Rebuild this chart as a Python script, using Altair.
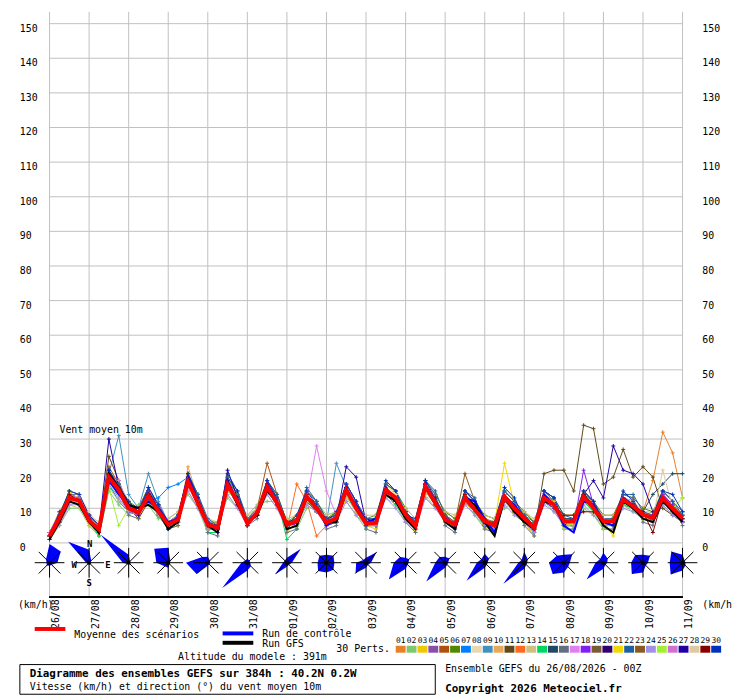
import json, math
import altair as alt
import pandas as pd

FONT = "DejaVu Sans Mono"
DAYS = ["26/08","27/08","28/08","29/08","30/08","31/08","01/09","02/09","03/09",
        "04/09","05/09","06/09","07/09","08/09","09/09","10/09","11/09"]
STEP_H = 6
Y_TICKS = list(range(0, 151, 10))

MEAN = [2.0,7.2,13,12.2, 6.5,3.9,19,15.3, 10,8.8,13.5,9.2, 5.3,6.7,17.7,11.5, 5.3,4.4,16.8,12,
        5.6,8.7,16.3,11.5, 5.3,6.3,13.4,10, 5.8,7.2,15.3,10, 5.6,5.8,15.3,13, 8.2,4.9,16.3,11.5,
        6.7,5.3,13,9.6, 6.3,5,13.4,10, 7.2,4.4,13,11, 6.3,6.3,13.4,10, 6.3,6.3,12.5,10.6, 8.2,7.2,13,10, 7.2]
CONTROL = [2,8,13,12, 7,3,18,14, 11,10,12,10, 6,7,19,12, 5,4,18,12, 6,9,17,12, 5,6,13,10, 5,7,15,11, 6,7,16,12, 8,5,17,12, 7,5,13,12, 7,3,13,11, 7,4,14,11, 5,3,12,11, 6,5,13,11, 8,7,12,10, 6]
GFS = [1,6,12,11, 6,3,20,16, 11,10,11,9, 4,6,18,11, 5,3,17,11, 6,8,15,12, 4,5,13,10, 6,6,15,10, 6,6,14,12, 7,4,16,12, 6,4,13,11, 6,2,13,9, 6,4,12,11, 6,6,14,10, 5,3,12,10, 7,6,12,9, 6]

P01 = [3,9,14,13, 8,3,21,16, 12,8,15,10, 4,6,19,11, 6,3,18,13, 5,8,17,11, 4,7,14,9, 5,6,16,12, 7,5,14,12, 9,4,17,13, 6,4,12,11, 7,4,14,9, 6,3,12,10, 5,7,15,11, 7,5,13,12, 9,18,32,26, 13]
P02 = [1,5,10,10, 5,2,15,11, 8,11,11,7, 7,9,14,10, 3,6,13,10, 8,11,12,12, 7,4,10,12, 8,9,12,8, 4,8,14,11, 6,7,13,10, 9,7,12,8, 4,7,10,12, 9,6,12,9, 8,4,10,8, 4,8,11,9, 8,9,11,8, 9]
P03 = [2,8,15,12, 5,2,18,14, 11,7,12,10, 4,5,20,12, 5,3,16,14, 5,8,18,12, 3,6,14,10, 6,6,13,11, 5,4,17,14, 9,3,15,12, 6,5,11,10, 4,4,13,8, 6,2,14,12, 5,6,14,8, 6,5,11,10, 7,6,14,11, 6]
P04 = [3,7,12,13, 8,4,20,16, 9,8,15,8, 5,7,17,13, 6,4,18,11, 6,9,16,11, 5,5,13,9, 6,7,16,10, 6,5,14,13, 7,5,17,11, 7,6,13,10, 6,5,12,10, 7,3,12,12, 6,7,14,10, 5,6,13,12, 8,6,12,10, 6]
P05 = [2,8,14,12, 7,5,22,17, 10,10,16,11, 6,6,18,11, 4,4,19,14, 7,10,23,14, 6,7,12,10, 5,8,15,11, 7,6,16,12, 8,6,15,13, 8,4,14,11, 6,6,14,11, 7,5,12,10, 6,5,12,11, 7,7,12,10, 8,8,14,11, 8]
P06 = [2,8,15,14, 8,4,21,17, 12,10,16,11, 6,8,20,14, 6,6,19,14, 7,10,18,14, 6,8,15,12, 7,9,17,12, 7,8,17,15, 10,7,18,14, 9,7,15,12, 8,7,15,12, 9,6,15,13, 8,8,15,12, 8,8,14,13, 10,9,15,12, 9]
P07 = [2,7,13,11, 6,4,17,12, 9,10,12,13, 16,17,19,12, 4,4,16,12, 6,9,15,11, 5,6,12,9, 6,7,15,9, 5,6,14,13, 8,5,15,12, 6,5,13,9, 6,6,13,10, 7,4,13,11, 6,6,12,10, 5,6,12,11, 8,7,12,10, 7]
P08 = [3,5,11,14, 9,5,18,16, 11,7,13,10, 4,6,17,11, 5,3,15,12, 7,8,17,13, 4,5,14,11, 7,6,15,10, 7,6,13,14, 7,4,17,11, 7,4,12,9, 5,4,14,11, 6,5,12,10, 6,6,14,10, 7,7,13,12, 9,6,14,10, 7]
P09 = [1,6,12,11, 7,4,20,31, 14,10,20,12, 6,8,18,13, 5,5,17,12, 6,8,16,12, 5,6,13,10, 6,23,16,11, 5,7,14,12, 9,6,15,11, 8,4,12,11, 7,4,12,9, 6,5,14,12, 7,7,14,9, 7,5,13,10, 9,8,14,11, 6]
P10 = [3,8,14,11, 6,3,18,14, 11,8,13,10, 6,6,22,13, 4,5,16,13, 5,10,15,11, 6,5,14,11, 5,8,14,9, 7,7,16,12, 7,4,15,11, 8,6,12,9, 7,5,12,9, 8,5,14,10, 5,5,14,11, 5,7,11,10, 7,8,12,9, 6]
P11 = [2,6,12,13, 6,4,25,18, 10,7,12,8, 4,8,17,11, 6,4,16,11, 6,8,15,11, 6,7,14,11, 7,8,16,11, 5,5,14,12, 9,6,17,12, 8,4,12,9, 5,6,12,9, 6,3,20,21, 21,15,34,33, 17,19,27,19, 22,19,10,8, 6]
P12 = [2,7,14,12, 8,5,18,15, 10,8,15,9, 5,7,19,12, 6,4,18,12, 5,9,16,12, 4,17,12,2, 5,7,14,10, 6,6,16,13, 7,5,15,12, 7,6,14,10, 7,5,12,10, 8,4,13,12, 6,6,12,11, 7,6,13,10, 8,7,14,11, 7]
P13 = [3,9,11,10, 8,6,16,12, 11,10,12,8, 7,9,15,10, 7,6,14,10, 8,10,14,10, 7,8,11,9, 8,9,13,9, 8,8,13,11, 10,7,14,10, 9,8,12,9, 8,7,12,10, 9,7,12,10, 8,8,12,9, 8,8,11,10, 9,9,12,9, 8]
P14 = [1,7,13,11, 6,2,16,14, 11,10,12,8, 4,6,17,14, 3,3,15,13, 5,10,17,13, 1,4,13,11, 5,6,14,9, 5,5,14,11, 7,4,15,11, 6,4,12,9, 5,4,12,9, 6,3,12,10, 5,5,12,9, 5,5,11,10, 7,6,12,9, 6]
P15 = [2,9,12,11, 8,3,20,16, 11,8,14,10, 5,6,19,13, 4,5,18,11, 6,8,17,13, 4,7,14,9, 7,6,16,11, 5,7,16,12, 9,6,17,11, 6,4,14,11, 5,6,14,11, 6,5,12,10, 7,7,14,11, 5,7,13,10, 9,14,17,20, 20]
P16 = [2,6,14,14, 6,3,20,16, 8,7,15,11, 4,5,19,14, 3,2,18,14, 5,7,18,13, 3,4,15,12, 4,5,17,12, 4,3,17,15, 6,3,18,14, 5,3,15,12, 4,3,15,12, 5,2,15,13, 4,4,15,12, 4,4,14,13, 6,5,15,12, 5]
P17 = [2,6,11,12, 6,4,19,18, 11,8,16,10, 5,7,16,13, 6,5,16,11, 6,9,15,13, 5,7,12,28, 15,8,15,9, 6,6,14,13, 8,5,15,12, 7,5,12,10, 7,5,14,10, 6,4,14,11, 6,6,14,10, 5,6,13,11, 7,7,12,10, 7]
P18 = [3,8,13,11, 8,5,20,14, 9,8,15,10, 6,6,17,11, 5,3,16,13, 7,8,17,11, 6,5,12,11, 5,6,14,11, 7,6,14,12, 7,6,17,13, 6,6,12,11, 5,4,12,11, 8,5,12,10, 5,5,21,11, 7,5,13,10, 9,6,14,11, 6]
P19 = [2,7,14,13, 6,3,20,16, 9,8,13,10, 4,6,17,12, 4,5,16,11, 5,8,17,12, 4,5,12,9, 7,6,14,10, 5,5,14,12, 8,4,16,13, 6,6,12,10, 7,6,13,9, 8,5,15,12, 5,5,12,11, 7,5,12,10, 7,6,13,9, 8]
P20 = [2,7,12,11, 7,5,21,16, 10,9,15,10, 5,8,19,13, 6,4,18,12, 5,9,17,12, 6,6,12,10, 7,8,16,11, 7,6,14,13, 9,5,17,12, 8,5,14,10, 5,5,13,11, 6,4,13,11, 5,7,13,10, 6,5,13,11, 7,7,13,10, 6]
P21 = [2,8,13,11, 6,3,18,15, 10,10,13,9, 5,7,18,11, 4,4,16,12, 7,9,15,12, 5,6,13,10, 6,7,15,9, 5,6,14,13, 7,5,15,12, 7,5,14,10, 6,6,23,11, 6,4,13,12, 6,5,13,10, 6,2,12,11, 7,6,12,10, 6]
P22 = [2,8,14,13, 8,5,20,17, 11,10,15,11, 6,8,20,14, 7,5,19,15, 7,9,18,14, 6,7,16,12, 7,8,17,12, 7,7,17,15, 9,6,18,15, 8,6,15,13, 6,6,15,12, 8,6,15,13, 8,7,14,12, 7,7,14,14, 9,8,15,12, 8]
P23 = [3,6,14,12, 7,5,18,16, 11,9,13,8, 6,7,17,12, 5,5,16,12, 6,9,15,11, 5,7,13,10, 6,6,15,10, 6,6,15,12, 8,6,16,12, 8,6,20,12, 7,5,12,10, 7,4,12,11, 6,6,12,10, 6,6,12,11, 8,7,12,10, 7]
P24 = [3,5,11,11, 6,4,17,13, 9,8,12,8, 5,6,15,10, 4,4,14,10, 5,8,14,10, 4,5,11,9, 6,6,12,8, 5,5,13,10, 6,4,13,10, 6,4,11,8, 5,4,11,8, 6,3,11,9, 5,5,11,8, 5,5,10,9, 7,6,11,8, 6]
P25 = [2,8,13,12, 6,4,16,5, 10,9,12,9, 5,7,17,12, 5,4,15,12, 6,8,16,11, 5,5,12,10, 6,7,14,10, 6,6,14,13, 8,5,15,12, 6,5,12,10, 6,5,13,10, 6,4,12,11, 4,6,12,10, 4,6,12,11, 7,7,12,10, 13]
P26 = [3,8,14,13, 8,4,18,16, 10,8,13,10, 6,8,17,12, 5,4,17,11, 6,10,16,11, 6,6,14,10, 6,7,17,11, 5,7,16,12, 8,5,16,12, 7,6,13,11, 6,5,13,10, 7,4,14,11, 6,7,13,10, 7,6,13,11, 8,8,13,10, 7]
P27 = [2,7,13,12, 7,4,30,16, 10,8,14,9, 5,7,17,12, 5,4,21,13, 6,8,16,12, 5,6,13,10, 6,7,22,19, 6,6,15,12, 8,5,17,12, 7,5,13,10, 6,5,13,10, 7,4,13,11, 6,6,14,18, 13,28,21,20, 17,9,13,9, 7]
P28 = [2,7,12,14, 7,5,18,14, 10,9,13,9, 6,7,16,12, 5,4,16,12, 6,9,15,12, 5,6,12,11, 6,7,14,10, 6,6,14,13, 8,5,15,12, 7,5,12,10, 6,5,13,10, 7,4,13,11, 6,6,12,10, 6,6,12,11, 8,7,21,10, 7]
P29 = [2,7,14,12, 7,3,20,15, 10,10,14,9, 5,7,18,12, 5,4,17,12, 6,8,16,11, 6,6,14,10, 6,7,15,10, 6,6,15,13, 8,5,16,12, 7,5,14,10, 6,5,13,10, 7,4,13,11, 8,8,9,9, 6,6,12,11, 9,3,13,10, 7]
P30 = [1,8,15,14, 8,5,21,16, 12,9,16,11, 4,8,20,13, 6,5,20,15, 5,9,18,13, 5,8,15,11, 6,9,17,12, 5,7,18,15, 8,7,18,13, 7,5,15,12, 6,6,16,13, 7,4,15,13, 6,7,15,12, 6,6,15,12, 8,8,15,14, 9]

PERTS = [P01,P02,P03,P04,P05,P06,P07,P08,P09,P10,P11,P12,P13,P14,P15,
         P16,P17,P18,P19,P20,P21,P22,P23,P24,P25,P26,P27,P28,P29,P30]
PERT_NAMES = [f"{i:02d}" for i in range(1, 31)]
PERT_COLORS = ["#e8802a","#80c870","#f0c800","#8850a8","#b05010","#508800","#0080ff","#e8d8b0",
               "#4090c0","#e8a858","#604818","#ff6820","#d0c080","#00d860","#204860","#607080",
               "#e080f0","#8020f0","#7a5a30","#300070","#f0d800","#2060a0","#8a5a20","#a090e8",
               "#a0f030","#d070d0","#2000a0","#e0c8a0","#880000","#0030c0"]

# wind rose radii per day, directions N, NE, E, SE, S, SW, W, NW
WIND_R = [
    [19,16,8,3,3,4,3,5], [13,3,1,1,1,1,3,30], [8,2,1,1,1,2,6,40], [15,3,2,2,5,5,12,20],
    [6,3,2,2,3,16,22,8], [4,3,3,5,8,36,6,3], [5,20,5,3,4,17,4,3], [8,10,8,10,10,12,9,10],
    [5,15,5,3,5,15,10,4], [5,5,3,3,6,24,12,8], [6,6,3,3,5,27,10,8], [9,6,3,3,5,26,8,5],
    [11,5,3,3,6,30,6,4], [8,12,6,6,10,16,15,10], [10,6,4,3,6,24,8,5], [8,10,5,4,10,16,12,11],
    [8,3,3,4,8,17,13,16],
]

for nm, arr in [("MEAN", MEAN), ("CONTROL", CONTROL), ("GFS", GFS)] + list(zip(PERT_NAMES, PERTS)):
    if len(arr) != 65:
        raise SystemExit(f"bad length {nm}: {len(arr)}")

# ---------------------------------------------------------------
TOP_PX, ZERO_PX, BOT_PX, PX_PER = 8, 545, 600, 3.5
PLOT_H = BOT_PX - TOP_PX
YS = alt.Scale(domain=[(ZERO_PX - BOT_PX) / PX_PER, (ZERO_PX - TOP_PX) / PX_PER], nice=False, zero=False)
XS = alt.Scale(domain=[0, 384], nice=False, zero=False)
GRID = "#c0c0c0"

def X(f):
    return alt.X(f, scale=XS, axis=None)

def Y(f):
    return alt.Y(f, scale=YS, axis=None)

rows = []
for nm, arr in zip(PERT_NAMES, PERTS):
    for i, v in enumerate(arr):
        rows.append({"series": nm, "hour": i * STEP_H, "value": v})
pert_df = pd.DataFrame(rows)

def single(arr):
    return pd.DataFrame({"hour": [i * STEP_H for i in range(len(arr))], "value": arr})

day_df = pd.DataFrame({"hour": [24 * d for d in range(len(DAYS))], "lab": DAYS})
tick_df = pd.DataFrame({"v": Y_TICKS})

vgrid = alt.Chart(day_df).mark_rule(color=GRID, strokeWidth=1).encode(
    x=X("hour:Q"), y=alt.value(0), y2=alt.value(PLOT_H))
hgrid = alt.Chart(tick_df).mark_rule(color=GRID, strokeWidth=1).encode(
    y=Y("v:Q"), x=alt.value(0), x2=alt.value(640))
bottom_line = alt.Chart(day_df).mark_rule(color="#000000", strokeWidth=1).encode(
    x=alt.value(0), x2=alt.value(640), y=alt.value(PLOT_H))
x_labels = alt.Chart(day_df).mark_text(angle=270, align="right", baseline="middle", dy=7,
                                       font=FONT, fontSize=10, color="#000000").encode(
    x=X("hour:Q"), y=alt.value(PLOT_H + 2), text="lab:N")
left_labels = alt.Chart(tick_df).mark_text(align="left", baseline="top", font=FONT, fontSize=10,
                                           color="#000000").encode(
    x=alt.value(20 - 50), y=Y("v:Q"), text="v:Q")
right_labels = alt.Chart(tick_df).mark_text(align="left", baseline="top", font=FONT, fontSize=10,
                                            color="#000000").encode(
    x=alt.value(710 - 50), y=Y("v:Q"), text="v:Q")

color = alt.Color("series:N", scale=alt.Scale(domain=PERT_NAMES, range=PERT_COLORS), legend=None)
pert_lines = alt.Chart(pert_df).mark_line(strokeWidth=1).encode(
    x=X("hour:Q"), y=Y("value:Q"), color=color)
pert_marks = alt.Chart(pert_df).mark_point(shape="M-1,0L1,0M0,-1L0,1", size=16, filled=False,
                                           strokeWidth=1, opacity=1).encode(
    x=X("hour:Q"), y=Y("value:Q"), color=color)

def line(arr, col, w):
    return alt.Chart(single(arr)).mark_line(color=col, strokeWidth=w).encode(
        x=X("hour:Q"), y=Y("value:Q"))

ctrl_line = line(CONTROL, "#0000ff", 2)
gfs_line = line(GFS, "#000000", 2)
mean_line = line(MEAN, "#ff0000", 4)

def rose_path(r):
    pts = []
    for k, rv in enumerate(r):
        a = math.radians(45 * k)
        pts.append((rv * math.sin(a), -rv * math.cos(a)))
    return "M" + "L".join(f"{x:.2f},{y:.2f}" for x, y in pts) + "Z"

rose_df = pd.DataFrame({"hour": [24 * d for d in range(len(WIND_R))],
                        "path": [rose_path(r) for r in WIND_R]})
ROSE_Y = 565 - TOP_PX
rose_poly = alt.Chart(rose_df).mark_point(filled=True, color="#0000ff", opacity=1, strokeWidth=0).encode(
    x=X("hour:Q"), y=alt.value(ROSE_Y),
    shape=alt.Shape("path:N", scale=None), size=alt.value(4))
STAR = "M-1,0L1,0M0,-1L0,1M-0.73,-0.73L0.73,0.73M-0.73,0.73L0.73,-0.73"
rose_star = alt.Chart(rose_df).mark_point(shape=STAR, size=900, filled=False, color="#000000",
                                          strokeWidth=1, opacity=1).encode(
    x=X("hour:Q"), y=alt.value(ROSE_Y))
rose_dot = alt.Chart(rose_df).mark_point(shape="circle", size=16, filled=True, color="#000000",
                                         opacity=1).encode(
    x=X("hour:Q"), y=alt.value(ROSE_Y))

ONE = pd.DataFrame({"k": [0]})

def txt(s, x, y, size=10, bold=False, align="left", baseline="alphabetic"):
    return alt.Chart(ONE).mark_text(text=s, align=align, baseline=baseline, font=FONT, fontSize=size,
                                    fontWeight="bold" if bold else "normal", color="#000000").encode(
        x=alt.value(x - 50), y=alt.value(y - TOP_PX))

def box(x1, x2, y1, y2, fill=None, stroke=None):
    kw = {}
    if fill:
        kw["fill"] = fill
    else:
        kw["fillOpacity"] = 0
    if stroke:
        kw["stroke"] = stroke
        kw["strokeWidth"] = 1
    return alt.Chart(ONE).mark_rect(**kw).encode(
        x=alt.value(x1 - 50), x2=alt.value(x2 - 50), y=alt.value(y1 - TOP_PX), y2=alt.value(y2 - TOP_PX))

sw_df = pd.DataFrame({"lab": PERT_NAMES, "col": PERT_COLORS})
sw_df["x1"] = [350 + 11 * i for i in range(30)]
sw_df["x2"] = sw_df["x1"] + 10
sw_df["xc"] = sw_df["x1"] + 5
swatches = alt.Chart(sw_df).mark_rect().encode(
    x=alt.X("x1:Q", scale=None, axis=None), x2="x2:Q",
    y=alt.value(649 - TOP_PX), y2=alt.value(656 - TOP_PX),
    color=alt.Color("col:N", scale=None, legend=None))
sw_labels = alt.Chart(sw_df).mark_text(font=FONT, fontSize=8, color="#000000", baseline="alphabetic",
                                       align="center").encode(
    x=alt.X("xc:Q", scale=None, axis=None), y=alt.value(646 - TOP_PX), text="lab:N")

texts = [
    txt("Vent moyen 10m", 60, 434),
    txt("N", 90.5, 546, size=9, bold=True, align="center", baseline="middle"),
    txt("W", 75, 567, size=9, bold=True, align="center", baseline="middle"),
    txt("E", 109, 567, size=9, bold=True, align="center", baseline="middle"),
    txt("S", 90, 586, size=9, bold=True, align="center", baseline="middle"),
    txt("(km/h)", 18, 611),
    txt("(km/h)", 710, 611),
    txt("Moyenne des scénarios", 75, 641),
    txt("Run de contrôle", 265, 640),
    txt("Run GFS", 265, 650),
    txt("30 Perts.", 340, 655),
    txt("Altitude du modele : 391m", 180, 663),
    txt("Diagramme des ensembles GEFS sur 384h : 40.2N 0.2W", 30, 681, size=11, bold=True),
    txt("Vitesse (km/h) et direction (°) du vent moyen 10m", 30, 694),
    txt("Ensemble GEFS du 26/08/2026 - 00Z", 450, 676),
    txt("Copyright 2026 Meteociel.fr", 450, 696, size=11, bold=True),
]
bars = [
    box(35, 66, 630, 634, fill="#ff0000"),
    box(225, 256, 634.5, 638.5, fill="#0000ff"),
    box(225, 256, 644, 648, fill="#000000"),
    box(20, 440, 668, 698, stroke="#000000"),
]

chart = alt.layer(
    vgrid, hgrid, bottom_line, x_labels, left_labels, right_labels,
    pert_lines, pert_marks, ctrl_line, gfs_line, mean_line,
    rose_poly, rose_star, rose_dot, swatches, sw_labels, *texts, *bars
).properties(
    width=640, height=PLOT_H,
    autosize=alt.AutoSizeParams(type="none"),
    padding={"left": 42, "top": 0, "right": 50, "bottom": 100},
    background="white",
).configure_view(stroke=None)

chart.save("out.html", embed_options={"renderer": "svg", "actions": False})
